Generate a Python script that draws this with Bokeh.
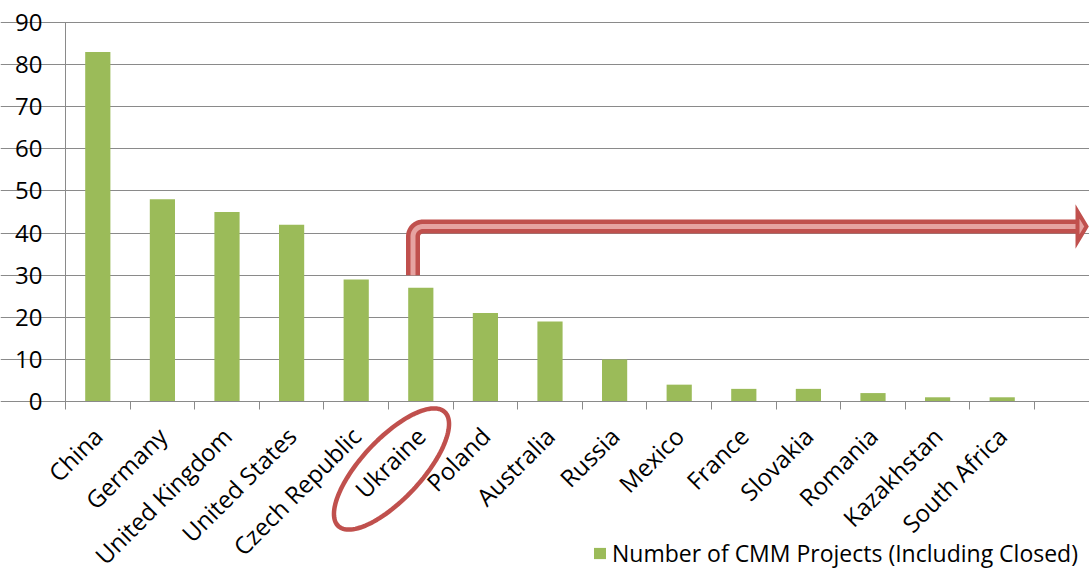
import numpy as np
from bokeh.plotting import figure
from bokeh.models import (Range1d, FixedTicker, Legend, LegendItem,
                          PolyAnnotation, ColumnDataSource)
from bokeh.embed import file_html
from bokeh.resources import INLINE

# ---------------- data ----------------
countries = ["China", "Germany", "United Kingdom", "United States",
             "Czech Republic", "Ukraine", "Poland", "Australia", "Russia",
             "Mexico", "France", "Slovakia", "Romania", "Kazakhstan",
             "South Africa"]
projects = [83, 48, 45, 42, 29, 27, 21, 19, 10, 4, 3, 3, 2, 1, 1]
y_ticks = [0, 10, 20, 30, 40, 50, 60, 70, 80, 90]
series_label = "Number of CMM Projects (Including Closed)"
highlight = "Ukraine"

# ---------------- style ----------------
FONT = "Open Sans"
AXIS_FSIZE = "24px"
LEG_FSIZE = "23px"
GREEN = "#9BBB59"
RED = "#C0504D"
PINK = "#E6A3A1"
GRID = "#8A8A8A"

W, H = 1089, 569
frame_w = W
frame_h = H
n = len(countries)
px_per_cat = 64.6
px_per_val = 379 / 90.0
axis_px_from_left = 65      # y axis line position in the canvas
axis_px_from_bottom = 168   # x axis line position above the canvas bottom
x_start = -axis_px_from_left / px_per_cat
x_end = x_start + frame_w / px_per_cat
y_start = -axis_px_from_bottom / px_per_val
y_end = y_start + frame_h / px_per_val


def dx(px):
    return px / px_per_cat


def dy(px):
    return px / px_per_val


centers = [i + 0.5 for i in range(n)]
src = ColumnDataSource(dict(country=countries, projects=projects, x=centers))

p = figure(width=W, height=H, x_range=Range1d(x_start, x_end),
           y_range=Range1d(y_start, y_end), output_backend="svg",
           toolbar_location=None, min_border_left=0,
           min_border_right=0, min_border_top=0,
           min_border_bottom=0)
p.outline_line_color = None
p.background_fill_color = "white"

# grid
p.xgrid.visible = False
p.ygrid.ticker = FixedTicker(ticks=y_ticks)
p.ygrid.grid_line_color = GRID
p.ygrid.grid_line_width = 1
p.ygrid.bounds = (0, n)

bars = p.vbar(x="x", top="projects", width=0.39, source=src,
              fill_color=GREEN, line_color=None)

# x axis (drawn at value 0)
xa = p.xaxis[0]
xa.fixed_location = 0
xa.ticker = FixedTicker(ticks=centers, minor_ticks=list(range(n + 1)))
xa.major_label_overrides = {c: name for c, name in zip(centers, countries)}
xa.major_label_orientation = np.pi / 4
xa.major_tick_line_color = None
xa.minor_tick_in = 0
xa.minor_tick_out = 8
xa.minor_tick_line_color = GRID
xa.axis_line_color = GRID
xa.bounds = (0, n)
xa.major_label_text_font = FONT
xa.major_label_text_font_size = AXIS_FSIZE
xa.major_label_text_color = "black"
xa.major_label_standoff = 22

# y axis (drawn at x = 0)
ya = p.yaxis[0]
ya.fixed_location = 0
ya.ticker = FixedTicker(ticks=y_ticks)
ya.bounds = (0, 90)
ya.axis_line_color = GRID
ya.major_tick_line_color = GRID
ya.major_tick_in = 0
ya.major_tick_out = 8
ya.minor_tick_line_color = None
ya.major_label_text_font = FONT
ya.major_label_text_font_size = AXIS_FSIZE
ya.major_label_text_color = "black"
ya.major_label_standoff = 15

# ---------------- annotation: bent arrow ----------------
ui = countries.index(highlight)
ax = centers[ui] - dx(7.8)
base_val = 30
level = 41.56
r = 10
head_x = n + dx(43)
cx, cy = ax + dx(r), level - dy(r)
t = np.linspace(np.pi, np.pi / 2, 20)
path_x = [ax] + list(cx + dx(r * np.cos(t))) + [head_x]
path_y = [base_val] + list(cy + dy(r * np.sin(t))) + [level]
p.line(path_x, path_y, line_width=14, line_color=RED, line_join="round",
       line_cap="butt")
p.line(path_x, path_y, line_width=5, line_color=PINK, line_join="round",
       line_cap="butt")
p.patch([head_x, head_x + dx(9), head_x],
        [level + dy(15), level, level - dy(15)],
        fill_color=PINK, line_color=RED, line_width=4, line_join="miter")

# ---------------- annotation: ellipse around label ----------------
ex, ey = centers[ui] + dx(-29.3), -dy(67.5)
a_px, b_px, phi = 78, 30, np.deg2rad(47)
tt = np.linspace(0, 2 * np.pi, 120)
ux = a_px * np.cos(tt) * np.cos(phi) - b_px * np.sin(tt) * np.sin(phi)
uy = a_px * np.cos(tt) * np.sin(phi) + b_px * np.sin(tt) * np.cos(phi)
ell = PolyAnnotation(xs=list(ex + dx(ux)), ys=list(ey + dy(uy)),
                     fill_alpha=0, fill_color=None, line_color=RED,
                     line_alpha=1.0, line_width=4.5)
p.add_layout(ell)

# ---------------- legend ----------------
legend = Legend(items=[LegendItem(label=series_label, renderers=[bars])],
                location=(592, 0))
legend.label_text_font = FONT
legend.label_text_font_size = LEG_FSIZE
legend.label_text_color = "black"
legend.glyph_width = 15
legend.glyph_height = 14
legend.label_standoff = 5
legend.padding = 0
legend.margin = 0
legend.spacing = 0
legend.border_line_color = None
legend.background_fill_alpha = 0
p.add_layout(legend)

open("out.html", "w").write(file_html(p, INLINE))
